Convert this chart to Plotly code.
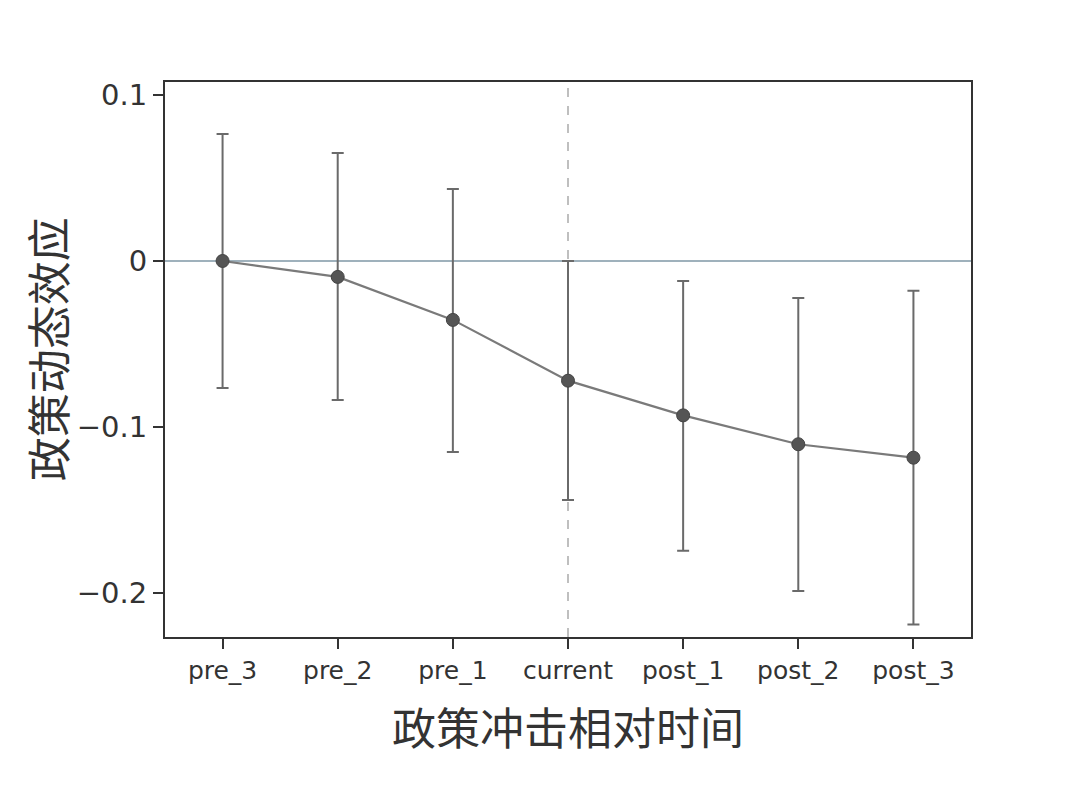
import plotly.graph_objects as go

# event-study coefficients and 95% CI
periods = ['pre_3', 'pre_2', 'pre_1', 'current', 'post_1', 'post_2', 'post_3']
coef = [0.0, -0.0096, -0.0355, -0.0721, -0.0930, -0.1104, -0.1185]
ci_upper = [0.0765, 0.0650, 0.0434, 0.0, -0.0120, -0.0223, -0.0180]
ci_lower = [-0.0765, -0.0837, -0.1150, -0.1440, -0.1745, -0.1988, -0.2189]

tick_vals = [0.1, 0.0, -0.1, -0.2]
tick_text = ['0.1', '0', '−0.1', '−0.2']

CJK_FONT = 'Noto Sans CJK SC'
TICK_FONT = 'DejaVu Sans'
AXIS_COLOR = '#333333'

err_plus = [u - c for u, c in zip(ci_upper, coef)]
err_minus = [c - l for c, l in zip(coef, ci_lower)]

fig = go.Figure()

fig.add_trace(go.Scatter(
    x=periods, y=coef, mode='lines+markers',
    line=dict(color='#7a7a7a', width=2.2),
    marker=dict(color='#555555', size=13, line=dict(color='#444444', width=1)),
    error_y=dict(type='data', symmetric=False, array=err_plus, arrayminus=err_minus,
                 color='#6a6a6a', thickness=2, width=6),
    showlegend=False,
))

# zero reference line and vertical line at the policy shock
fig.add_hline(y=0, line=dict(color='#7f97a6', width=1.5), layer='below')
fig.add_vline(x='current', line=dict(color='#aaaaaa', width=1.5, dash='dash'), layer='below')

# y title as an annotation so it sits a little above the plot centre like the original
fig.add_annotation(text='政策动态效应', textangle=-90, showarrow=False,
                   xref='paper', yref='paper', x=-0.146, y=0.519,
                   xanchor='center', yanchor='middle',
                   font=dict(size=44, family=CJK_FONT, color=AXIS_COLOR))

# page body has an 8px margin, so the figure is a bit smaller than the window
fig.update_layout(
    width=1064, height=778,
    margin=dict(l=157, r=101, t=74, b=149),
    paper_bgcolor='white', plot_bgcolor='white',
    font=dict(family=TICK_FONT, color=AXIS_COLOR),
    xaxis=dict(
        type='category', range=[-0.5, 6.5],
        showline=True, mirror=True, linecolor=AXIS_COLOR, linewidth=2,
        showgrid=False, zeroline=False,
        ticks='outside', ticklen=10, tickwidth=1.5, tickcolor=AXIS_COLOR,
        tickfont=dict(size=25, family=TICK_FONT, color=AXIS_COLOR),
        title=dict(text='政策冲击相对时间', font=dict(size=44, family=CJK_FONT, color=AXIS_COLOR), standoff=30),
    ),
    yaxis=dict(
        range=[-0.2265, 0.1078],
        tickvals=tick_vals, ticktext=tick_text,
        showline=True, mirror=True, linecolor=AXIS_COLOR, linewidth=2,
        showgrid=False, zeroline=False,
        ticks='outside', ticklen=10, tickwidth=1.5, tickcolor=AXIS_COLOR,
        tickfont=dict(size=29, family=TICK_FONT, color=AXIS_COLOR),
    ),
)

fig.write_html('out.html')
